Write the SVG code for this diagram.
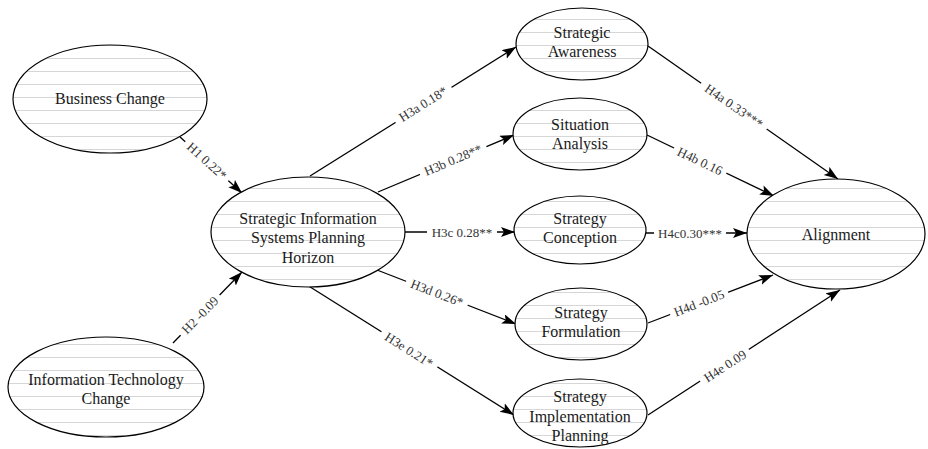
<svg xmlns="http://www.w3.org/2000/svg" width="928" height="449" viewBox="0 0 928 449">
<style>
.node ellipse{fill:url(#hatch);stroke:#000;stroke-width:1.2}
.node text{font-family:"Liberation Serif","Times New Roman",serif;font-size:16px;fill:#1a1a1a;text-anchor:middle}
.edge line{stroke:#000;stroke-width:1.3;marker-end:url(#arrow)}
.lbl rect{fill:#fff}
.lbl text{font-family:"Liberation Serif","Times New Roman",serif;font-size:13px;fill:#333;text-anchor:middle}
</style>
<defs>
<pattern id="hatch" patternUnits="userSpaceOnUse" width="20" height="13">
<rect width="20" height="13" fill="#fff"/>
<line x1="0" y1="6.5" x2="20" y2="6.5" stroke="#d6d6d6" stroke-width="1"/>
</pattern>
<marker id="arrow" markerUnits="userSpaceOnUse" markerWidth="15" markerHeight="11" refX="14" refY="5" orient="auto">
<path d="M0,0 L14,5 L0,10 L3,5 z" fill="#000"/>
</marker>
</defs>
<rect width="928" height="449" fill="#fff"/>
<g id="connectors">
<g class="edge">
<line x1="180" y1="137" x2="242" y2="193"/>
<line x1="173" y1="343" x2="242" y2="272"/>
<line x1="310" y1="176" x2="516" y2="47"/>
<line x1="378" y1="192" x2="514" y2="135"/>
<line x1="405" y1="232" x2="515" y2="232"/>
<line x1="377" y1="270" x2="516" y2="324"/>
<line x1="307" y1="285" x2="514" y2="415"/>
<line x1="648" y1="46" x2="838" y2="179"/>
<line x1="647" y1="135" x2="774" y2="196"/>
<line x1="646" y1="233" x2="747" y2="233"/>
<line x1="648" y1="323" x2="773" y2="275"/>
<line x1="648" y1="415" x2="840" y2="290"/>
</g>
<g class="lbl">
<g transform="translate(207,161) rotate(42.1)"><rect x="-29" y="-7" width="58" height="14"/><text y="4.5">H1 0.22*</text></g>
<g transform="translate(200,315) rotate(-45.8)"><rect x="-28" y="-7" width="56" height="14"/><text y="4.5">H2 -0.09</text></g>
<g transform="translate(423,104) rotate(-32.2)"><rect x="-33" y="-7" width="66" height="14"/><text y="4.5">H3a 0.18*</text></g>
<g transform="translate(453,160) rotate(-22.9)"><rect x="-36" y="-7" width="72" height="14"/><text y="4.5">H3b 0.28**</text></g>
<g transform="translate(462,232)"><rect x="-35" y="-7" width="70" height="14"/><text y="4.5">H3c 0.28**</text></g>
<g transform="translate(437,293) rotate(21)"><rect x="-33" y="-7" width="66" height="14"/><text y="4.5">H3d 0.26*</text></g>
<g transform="translate(409,350) rotate(32.3)"><rect x="-33" y="-7" width="66" height="14"/><text y="4.5">H3e 0.21*</text></g>
<g transform="translate(734,106) rotate(34.8)"><rect x="-40" y="-7" width="80" height="14"/><text y="4.5">H4a 0.33***</text></g>
<g transform="translate(700,161) rotate(25.5)"><rect x="-29" y="-7" width="58" height="14"/><text y="4.5">H4b 0.16</text></g>
<g transform="translate(690,233)"><rect x="-36" y="-7" width="72" height="14"/><text y="4.5">H4c0.30***</text></g>
<g transform="translate(699,303) rotate(-21)"><rect x="-31" y="-7" width="62" height="14"/><text y="4.5">H4d -0.05</text></g>
<g transform="translate(725,366) rotate(-33.1)"><rect x="-29" y="-7" width="58" height="14"/><text y="4.5">H4e 0.09</text></g>
</g>
</g>
<g id="business-change" class="node"><ellipse cx="110" cy="99" rx="97" ry="54"/><text x="110" y="104">Business Change</text></g>
<g id="it-change" class="node"><ellipse cx="106" cy="387" rx="98" ry="50"/><text x="106" y="385">Information Technology</text><text x="106" y="404">Change</text></g>
<g id="sisp-horizon" class="node"><ellipse cx="308" cy="232" rx="97" ry="55"/><text x="308" y="224">Strategic Information</text><text x="308" y="243">Systems Planning</text><text x="308" y="263">Horizon</text></g>
<g id="strategic-awareness" class="node"><ellipse cx="582" cy="44" rx="66" ry="36"/><text x="582" y="38">Strategic</text><text x="582" y="57">Awareness</text></g>
<g id="situation-analysis" class="node"><ellipse cx="580" cy="134" rx="67" ry="36"/><text x="580" y="130">Situation</text><text x="580" y="149">Analysis</text></g>
<g id="strategy-conception" class="node"><ellipse cx="580" cy="230" rx="66" ry="34"/><text x="580" y="224">Strategy</text><text x="580" y="243">Conception</text></g>
<g id="strategy-formulation" class="node"><ellipse cx="581" cy="324" rx="66" ry="36"/><text x="581" y="318">Strategy</text><text x="581" y="337">Formulation</text></g>
<g id="strategy-implementation" class="node"><ellipse cx="580" cy="413" rx="67" ry="34"/><text x="580" y="402">Strategy</text><text x="580" y="422">Implementation</text><text x="580" y="441">Planning</text></g>
<g id="alignment" class="node"><ellipse cx="836" cy="234" rx="89" ry="55"/><text x="836" y="240">Alignment</text></g>
</svg>
